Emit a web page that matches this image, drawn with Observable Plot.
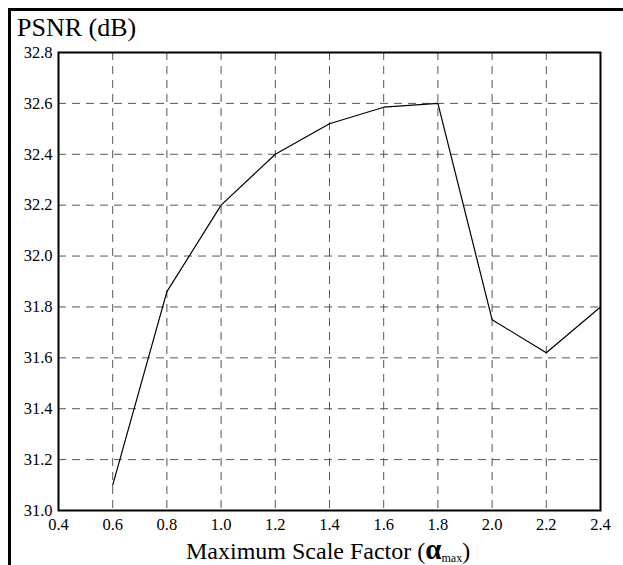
<!DOCTYPE html>
<html>
<head>
<meta charset="utf-8">
<script src="https://cdn.jsdelivr.net/npm/d3@7"></script>
<script src="https://cdn.jsdelivr.net/npm/@observablehq/plot@0.6"></script>
<style>
  html, body { margin: 0; padding: 0; background: #fff; overflow: hidden; width: 623px; height: 565px; }
  #outer { position: absolute; left: 8px; top: 8px; width: 900px; height: 900px; border-top: 3px solid #000; border-left: 3px solid #000; }
  #chart { position: absolute; left: 0; top: 0; }
  #title { position: absolute; left: 17px; top: 15px; font-family: "Liberation Serif", "DejaVu Serif", serif; font-size: 26px; line-height: 26px; color: #000; white-space: nowrap; }
  #xlabel { position: absolute; left: 186px; top: 537px; font-family: "Liberation Serif", "DejaVu Serif", serif; font-size: 24px; line-height: 24px; color: #000; white-space: nowrap; }
  #xlabel .alpha { font-weight: bold; font-size: 29px; line-height: 24px; }
  #xlabel sub { font-size: 12px; line-height: 12px; vertical-align: -3px; }
  #chart svg, #chart svg text { font-family: "Liberation Serif", "DejaVu Serif", serif !important; }
</style>
</head>
<body>
<div id="outer"></div>
<div id="chart"></div>
<div id="title">PSNR (dB)</div>
<div id="xlabel">Maximum Scale Factor (<span class="alpha">α</span><sub>max</sub>)</div>
<script>
const scaleFactor = [0.6, 0.8, 1.0, 1.2, 1.4, 1.6, 1.8, 2.0, 2.2, 2.4];
const psnr = [31.10, 31.86, 32.20, 32.40, 32.52, 32.585, 32.60, 31.75, 31.62, 31.80];
const xTicks = [0.4, 0.6, 0.8, 1.0, 1.2, 1.4, 1.6, 1.8, 2.0, 2.2, 2.4];
const yTicks = [31.0, 31.2, 31.4, 31.6, 31.8, 32.0, 32.2, 32.4, 32.6, 32.8];

const data = scaleFactor.map((x, i) => ({x, y: psnr[i]}));

const chart = Plot.plot({
  width: 623,
  height: 565,
  marginLeft: 58,
  marginRight: 23,
  marginTop: 52,
  marginBottom: 55,
  style: {fontSize: "16.5px", color: "#000", background: "transparent", overflow: "visible"},
  x: {domain: [0.4, 2.4]},
  y: {domain: [31.0, 32.8]},
  marks: [
    Plot.gridX(xTicks.slice(1, -1), {stroke: "#555", strokeOpacity: 1, strokeWidth: 1, strokeDasharray: "8,6"}),
    Plot.gridY(yTicks.slice(1, -1), {stroke: "#555", strokeOpacity: 1, strokeWidth: 1, strokeDasharray: "8,6"}),
    Plot.line(data, {x: "x", y: "y", stroke: "#000", strokeWidth: 1.2}),
    Plot.frame({stroke: "#000", strokeWidth: 2}),
    Plot.axisX(xTicks, {tickSize: 0, tickPadding: 8, label: null, tickFormat: d => d.toFixed(1), fontSize: 16.5}),
    Plot.axisY(yTicks, {tickSize: 0, tickPadding: 6, label: null, tickFormat: d => d.toFixed(1), fontSize: 16.5})
  ]
});
document.getElementById("chart").appendChild(chart);
</script>
</body>
</html>
